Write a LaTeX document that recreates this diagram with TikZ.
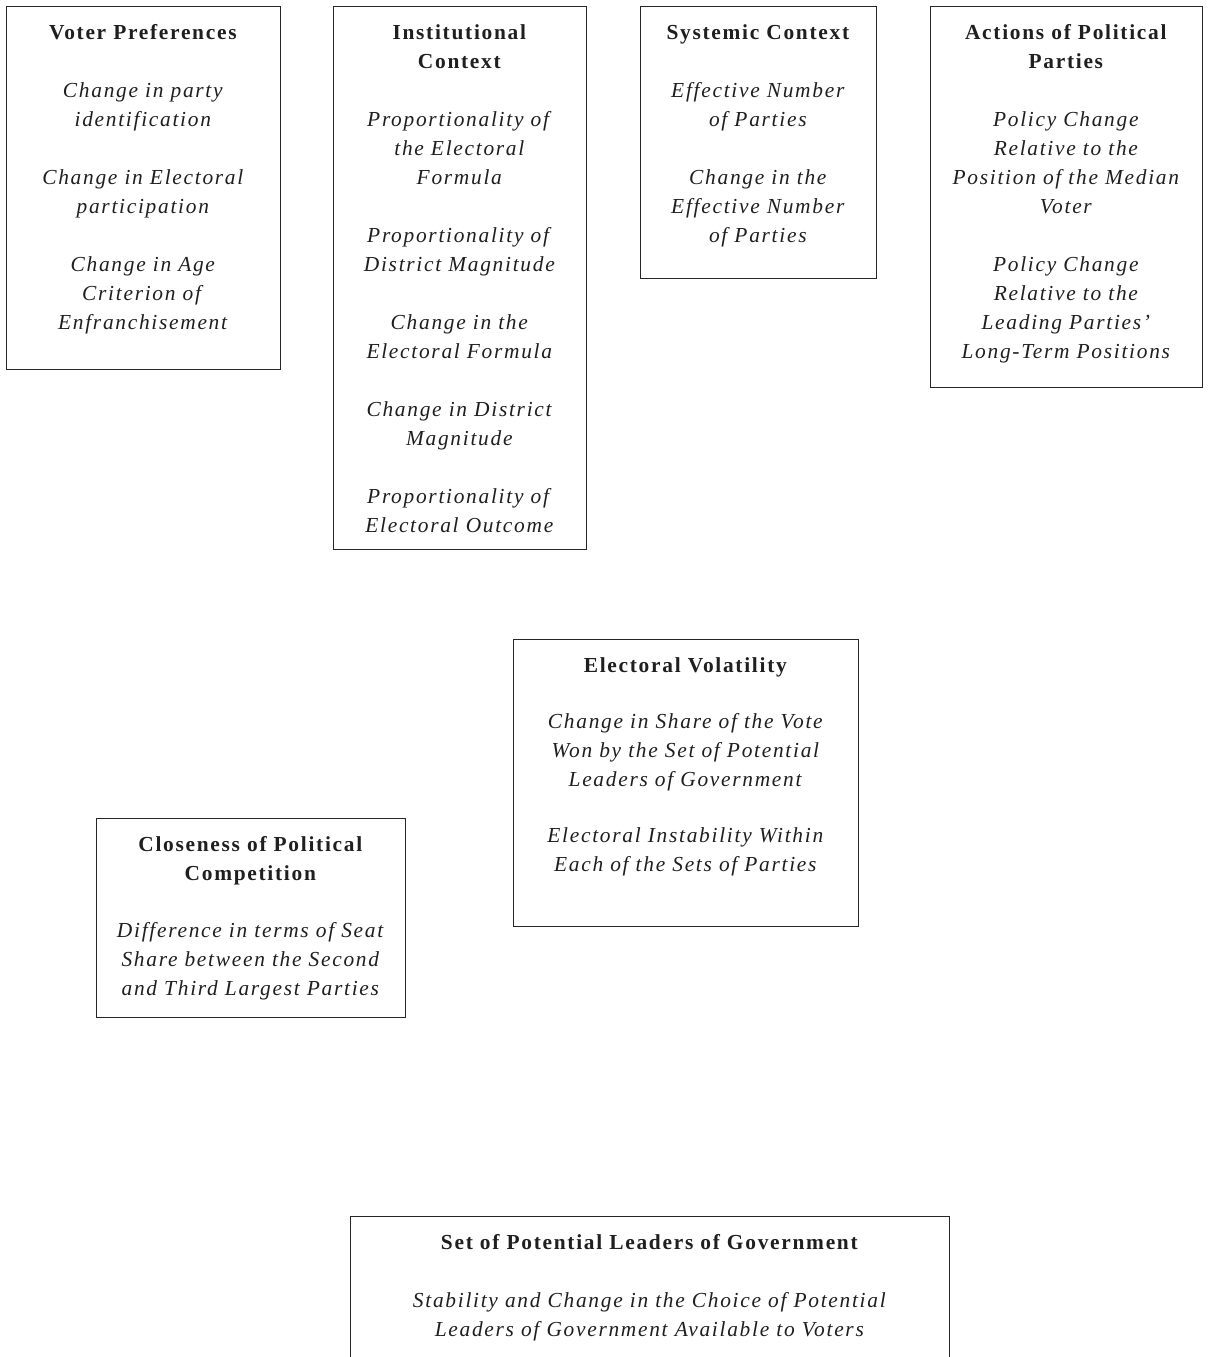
\documentclass[tikz,border=0pt]{standalone}
\usepackage{fontspec}
\setmainfont{Liberation Serif}[LetterSpace=8]
\newcommand{\boxtitle}[1]{\textbf{#1}}
\newcommand{\boxitem}[1]{\textit{#1}}
\begin{document}
\begin{tikzpicture}[x=1pt,y=-1pt,
  box/.style={draw=black!85, line width=1.35pt, anchor=north west, inner sep=0pt},
  txt/.style={anchor=north, align=center, inner sep=0pt, text=black!88,
    font=\fontsize{21.4}{29}\selectfont, yshift=-12.8pt}]
\useasboundingbox (0,0) rectangle (1208,1357);
\fill[white] (0,0) rectangle (1208,1357);
\clip (0,0) rectangle (1208,1357);

% Voter Preferences
\node[box, minimum width=274pt, minimum height=363pt] (vp) at (6,6) {};
\node[txt] (vpt) at (vp.north) {\strut\boxtitle{Voter Preferences}\\[29pt]
  \boxitem{Change in party}\\ \boxitem{identification}\\[29pt]
  \boxitem{Change in Electoral}\\ \boxitem{participation}\\[29pt]
  \boxitem{Change in Age}\\ \boxitem{Criterion of}\\ \boxitem{Enfranchisement}};

% Institutional Context
\node[box, minimum width=253pt, minimum height=543pt] (ic) at (333,6) {};
\node[txt] (ict) at (ic.north) {\strut\boxtitle{Institutional}\\ \boxtitle{Context}\\[29pt]
  \boxitem{Proportionality of}\\ \boxitem{the Electoral}\\ \boxitem{Formula}\\[29pt]
  \boxitem{Proportionality of}\\ \boxitem{District Magnitude}\\[29pt]
  \boxitem{Change in the}\\ \boxitem{Electoral Formula}\\[29pt]
  \boxitem{Change in District}\\ \boxitem{Magnitude}\\[29pt]
  \boxitem{Proportionality of}\\ \boxitem{Electoral Outcome}};

% Systemic Context
\node[box, minimum width=236pt, minimum height=272pt] (sc) at (640,6) {};
\node[txt] (sct) at (sc.north) {\strut\boxtitle{Systemic Context}\\[29pt]
  \boxitem{Effective Number}\\ \boxitem{of Parties}\\[29pt]
  \boxitem{Change in the}\\ \boxitem{Effective Number}\\ \boxitem{of Parties}};

% Actions of Political Parties
\node[box, minimum width=272pt, minimum height=381pt] (ap) at (930,6) {};
\node[txt] (apt) at (ap.north) {\strut\boxtitle{Actions of Political}\\ \boxtitle{Parties}\\[29pt]
  \boxitem{Policy Change}\\ \boxitem{Relative to the}\\ \boxitem{Position of the Median}\\ \boxitem{Voter}\\[29pt]
  \boxitem{Policy Change}\\ \boxitem{Relative to the}\\ \boxitem{Leading Parties’}\\ \boxitem{Long-Term Positions}};

% Electoral Volatility
\node[box, minimum width=345pt, minimum height=287pt] (ev) at (513,639) {};
\node[txt] (evt) at (ev.north) {\strut\boxtitle{Electoral Volatility}\\[27pt]
  \boxitem{Change in Share of the Vote}\\ \boxitem{Won by the Set of Potential}\\ \boxitem{Leaders of Government}\\[27pt]
  \boxitem{Electoral Instability Within}\\ \boxitem{Each of the Sets of Parties}};

% Closeness of Political Competition
\node[box, minimum width=309pt, minimum height=199pt] (cp) at (96,818) {};
\node[txt] (cpt) at (cp.north) {\strut\boxtitle{Closeness of Political}\\ \boxtitle{Competition}\\[28pt]
  \boxitem{Difference in terms of Seat}\\ \boxitem{Share between the Second}\\ \boxitem{and Third Largest Parties}};

% Set of Potential Leaders of Government
\node[box, minimum width=599pt, minimum height=200pt] (sl) at (350,1216) {};
\node[txt] (slt) at (sl.north) {\strut\boxtitle{Set of Potential Leaders of Government}\\[29pt]
  \boxitem{Stability and Change in the Choice of Potential}\\ \boxitem{Leaders of Government Available to Voters}};
\end{tikzpicture}
\end{document}
